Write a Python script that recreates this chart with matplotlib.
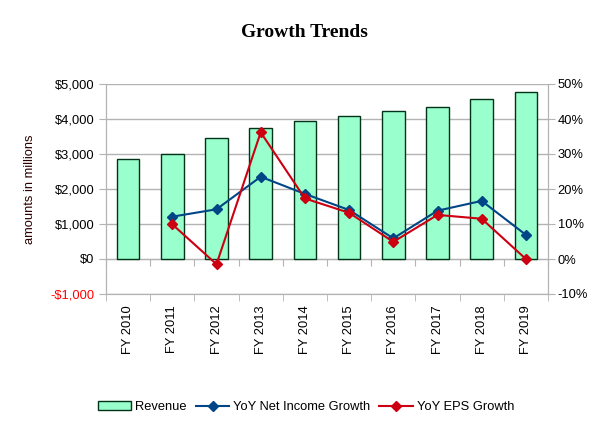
import matplotlib.pyplot as plt
import numpy as np
from matplotlib.ticker import FuncFormatter, MultipleLocator, FixedLocator

# ===== data =====
years = ['FY 2010', 'FY 2011', 'FY 2012', 'FY 2013', 'FY 2014',
         'FY 2015', 'FY 2016', 'FY 2017', 'FY 2018', 'FY 2019']
revenue = [2850, 2990, 3450, 3730, 3930, 4100, 4220, 4330, 4560, 4760]
net_income_growth = [np.nan, 12.1, 14.2, 23.5, 18.6, 14.0, 5.9, 13.8, 16.6, 6.9]
eps_growth = [np.nan, 9.9, -1.5, 36.2, 17.3, 13.2, 4.9, 12.6, 11.5, 0.0]

# ===== style =====
FONT = ['Liberation Sans', 'DejaVu Sans']
TICK_SIZE = 9.3
BAR_COLOR = '#99ffcc'
BAR_EDGE = '#003318'
NI_COLOR = '#004586'
EPS_COLOR = '#cc0011'
GRID_COLOR = '#b3b3b3'

plt.rcParams['font.family'] = FONT

fig = plt.figure(figsize=(6.13, 4.26), dpi=100)
ax1 = fig.add_axes([106 / 613, 1 - 294 / 426, (548 - 106) / 613, (294 - 84) / 426])
ax2 = ax1.twinx()

x = np.arange(len(years))
bars = ax1.bar(x, revenue, width=0.51, color=BAR_COLOR, edgecolor=BAR_EDGE,
               linewidth=1.0, label='Revenue', zorder=2)

l1, = ax2.plot(x, net_income_growth, color=NI_COLOR, marker='D', markersize=5.5,
               linewidth=1.5, label='YoY Net Income Growth', zorder=3)
l2, = ax2.plot(x, eps_growth, color=EPS_COLOR, marker='D', markersize=5.5,
               linewidth=1.5, label='YoY EPS Growth', zorder=4)

# left axis
ax1.set_xlim(-0.5, len(years) - 0.5)
ax1.set_ylim(-1000, 5000)
ax1.yaxis.set_major_locator(MultipleLocator(1000))
ax1.yaxis.set_major_formatter(FuncFormatter(
    lambda v, p: f'-${abs(v):,.0f}' if v < 0 else f'${v:,.0f}'))
ax1.grid(axis='y', color=GRID_COLOR, linewidth=1, zorder=0)
ax1.set_axisbelow(True)
ax1.set_ylabel('amounts in millions', fontsize=TICK_SIZE, color='#2a0000', labelpad=10)
ax1.tick_params(axis='y', labelsize=TICK_SIZE, color=GRID_COLOR, length=5)
for lab in ax1.get_yticklabels():
    if lab.get_text().startswith('-'):
        lab.set_color('#ff0000')

# right axis
ax2.set_ylim(-10, 50)
ax2.yaxis.set_major_locator(MultipleLocator(10))
ax2.yaxis.set_major_formatter(FuncFormatter(lambda v, p: f'{v:.0f}%'))
ax2.tick_params(axis='y', labelsize=TICK_SIZE, color=GRID_COLOR, length=5, pad=2)

# category axis
ax1.set_xticks(x)
ax1.set_xticklabels(years, rotation=90, fontsize=TICK_SIZE)
ax1.xaxis.set_minor_locator(FixedLocator(np.arange(-0.5, len(years), 1.0)))
ax1.tick_params(axis='x', which='major', length=0, pad=8)
ax1.tick_params(axis='x', which='minor', length=5, color=GRID_COLOR)

# category axis line at zero
zero_axis = ax1.secondary_xaxis(1 / 6)
zero_axis.set_xticks(np.arange(-0.5, len(years), 1.0))
zero_axis.set_xticklabels([])
zero_axis.tick_params(length=5, color=GRID_COLOR, direction='out')
zero_axis.spines['bottom'].set_color(GRID_COLOR)

for a in (ax1, ax2):
    a.spines['top'].set_visible(False)
    a.spines['bottom'].set_color(GRID_COLOR)
    a.spines['left'].set_color(GRID_COLOR)
    a.spines['right'].set_color(GRID_COLOR)

fig.suptitle('Growth Trends', x=304 / 613, y=1 - 24 / 426, fontsize=14,
             fontweight='bold', family=['Liberation Serif', 'DejaVu Serif'])

fig.legend([bars, l1, l2], ['Revenue', 'YoY Net Income Growth', 'YoY EPS Growth'],
           loc='center', bbox_to_anchor=(306 / 613, 1 - 407 / 426), ncol=3,
           frameon=False, fontsize=TICK_SIZE, handlelength=2.6,
           columnspacing=0.7, handletextpad=0.3)

plt.savefig('out.png', dpi=100, facecolor='white')
